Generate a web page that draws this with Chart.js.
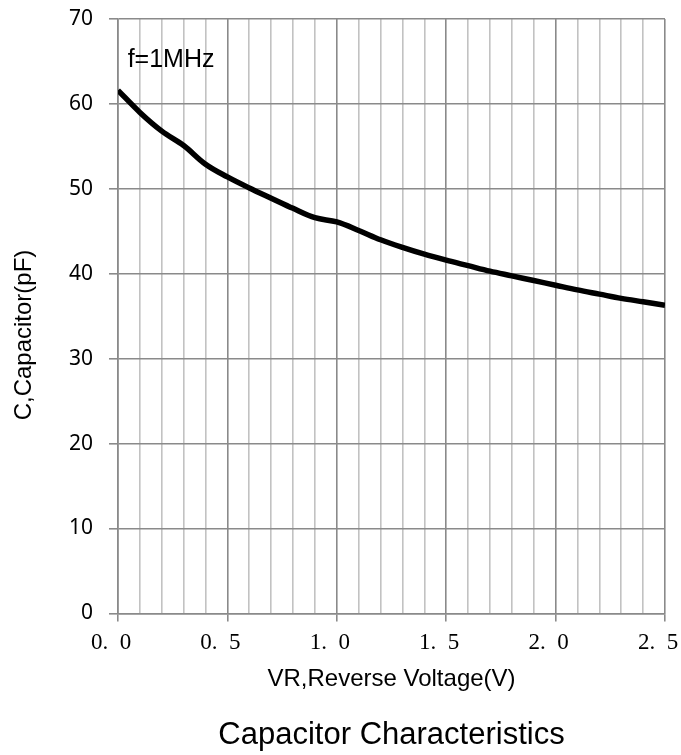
<!DOCTYPE html>
<html>
<head>
<meta charset="utf-8">
<script src="https://cdn.jsdelivr.net/npm/chart.js@4"></script>
<style>
  html, body { margin: 0; padding: 0; background: #fff; }
  #wrap { width: 681px; height: 755px; position: relative; }
</style>
</head>
<body>
<div id="wrap"><canvas id="myChart"></canvas></div>
<script>
// reverse voltage (V) and capacitance (pF)
var voltajes = [0, 0.1, 0.2, 0.3, 0.4, 0.5, 0.6, 0.7, 0.8, 0.9, 1.0, 1.1, 1.2, 1.3,
                1.4, 1.5, 1.6, 1.7, 1.8, 1.9, 2.0, 2.1, 2.2, 2.3, 2.4, 2.5]
var capacidad = [61.6, 59.0, 56.8, 55.1, 52.9, 51.4, 50.1, 48.9, 47.7, 46.6, 46.1, 45.1, 44.0, 43.1,
                 42.3, 41.6, 40.95, 40.3, 39.75, 39.2, 38.65, 38.1, 37.6, 37.1, 36.7, 36.3]
var ticksX = [0, 0.5, 1.0, 1.5, 2.0, 2.5]
var ticksY = [0, 10, 20, 30, 40, 50, 60, 70]
var nota = 'f=1MHz'
var tituloX = 'VR,Reverse Voltage(V)'
var tituloY = 'C,Capacitor(pF)'
var titulo = 'Capacitor Characteristics'

var puntos = []
for (var i = 0; i < voltajes.length; i++) {
    puntos.push({ x: voltajes[i], y: capacidad[i] })
}

function esMayor(v) {
    for (var k = 0; k < ticksX.length; k++) {
        if (Math.abs(ticksX[k] - v) < 1e-6) return true
    }
    return false
}

const gris = '#8a8a8a'
const grisClaro = '#c2c2c2'

// y title and the f=1MHz note
const textos = {
    id: 'textos',
    afterDraw(chart) {
        const ctx = chart.ctx
        const xs = chart.scales.x
        const ys = chart.scales.y
        ctx.save()
        ctx.fillStyle = '#000'
        ctx.font = '25px "Liberation Sans", Arial, sans-serif'
        ctx.textAlign = 'left'
        ctx.textBaseline = 'alphabetic'
        ctx.fillText(nota, xs.getPixelForValue(0.044), ys.getPixelForValue(64.4))
        ctx.translate(24, 335)
        ctx.rotate(-Math.PI / 2)
        ctx.textAlign = 'center'
        ctx.textBaseline = 'middle'
        ctx.font = '24px "Liberation Sans", Arial, sans-serif'
        ctx.fillText(tituloY, 0, 0)
        ctx.restore()
    }
}

const config1 = {
    type: 'line',
    data: {
        datasets: [{
            label: 'C',
            data: puntos,
            borderColor: '#000',
            backgroundColor: '#000',
            borderWidth: 5.5,
            pointRadius: 0,
            tension: 0.35,
            fill: false
        }]
    },
    options: {
        responsive: true,
        maintainAspectRatio: false,
        animation: false,
        layout: { padding: { left: 53, right: 16, top: 19, bottom: 0 } },
        plugins: {
            legend: { display: false },
            tooltip: { enabled: false },
            title: {
                display: true,
                text: titulo,
                position: 'bottom',
                fullSize: false,
                color: '#000',
                font: { family: '"Liberation Sans", Arial, sans-serif', size: 31, weight: 'normal' },
                padding: { top: 22, bottom: 1 }
            }
        },
        scales: {
            x: {
                type: 'linear',
                min: 0,
                max: 2.5,
                afterFit: function (s) { s.paddingLeft = 0; s.paddingRight = 0 },
                ticks: {
                    stepSize: 0.1,
                    autoSkip: false,
                    maxRotation: 0,
                    padding: 8,
                    labelOffset: -7,
                    color: '#000',
                    font: { family: '"Liberation Serif", "DejaVu Serif", serif', size: 23 },
                    callback: function (v) {
                        if (!esMayor(v)) return ''
                        var t = v.toFixed(1).split('.')
                        return t[0] + '.\u2002' + t[1]
                    }
                },
                grid: {
                    color: function (c) { return c.tick && esMayor(c.tick.value) ? gris : grisClaro },
                    lineWidth: 1.6,
                    tickLength: 8,
                    tickColor: function (c) { return c.tick && esMayor(c.tick.value) ? gris : 'rgba(0,0,0,0)' },
                    tickWidth: 1.6
                },
                border: { display: true, color: gris, width: 1.6 },
                title: {
                    display: true,
                    text: tituloX,
                    color: '#000',
                    font: { family: '"Liberation Sans", Arial, sans-serif', size: 24 },
                    padding: { top: 0, bottom: 1 }
                }
            },
            y: {
                min: 0,
                max: 70,
                afterBuildTicks: function (s) { s.ticks = ticksY.map(function (v) { return { value: v } }) },
                afterFit: function (s) { s.paddingTop = 0; s.paddingBottom = 0 },
                ticks: {
                    padding: 16,
                    color: '#000',
                    font: { family: '"Noto Sans", "Open Sans", sans-serif', size: 21 }
                },
                grid: {
                    color: gris,
                    lineWidth: 1.6,
                    tickLength: 9,
                    tickColor: gris
                },
                border: { display: true, color: gris, width: 1.6 }
            }
        }
    },
    plugins: [textos]
}

const myChart = new Chart(document.getElementById('myChart'), config1)
</script>
</body>
</html>
